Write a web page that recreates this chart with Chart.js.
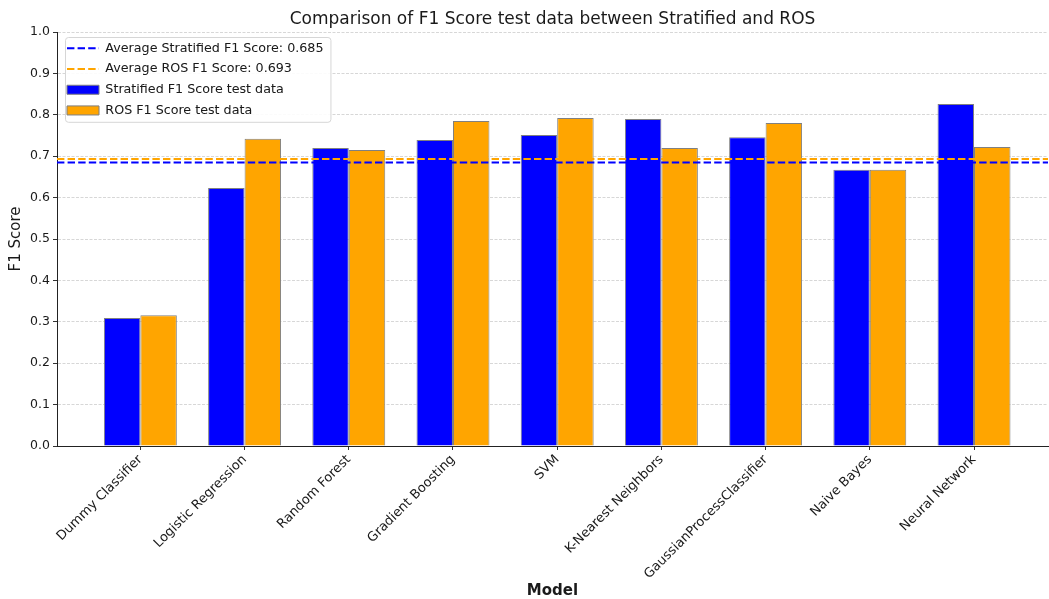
<!DOCTYPE html>
<html>
<head>
<meta charset="utf-8">
<script src="https://cdn.jsdelivr.net/npm/chart.js@4.4.0/dist/chart.umd.min.js"></script>
<style>
  html, body { margin: 0; padding: 0; background: #fff; }
  #wrap { width: 1049px; height: 599px; }
</style>
</head>
<body>
<div id="wrap"><canvas id="chart"></canvas></div>
<script>
const models = ['Dummy Classifier', 'Logistic Regression', 'Random Forest', 'Gradient Boosting', 'SVM',
    'K-Nearest Neighbors', 'GaussianProcessClassifier', 'Naive Bayes', 'Neural Network']
const stratifiedScores = [0.309, 0.623, 0.720, 0.739, 0.751, 0.790, 0.746, 0.667, 0.826]
const rosScores = [0.316, 0.742, 0.715, 0.785, 0.792, 0.720, 0.780, 0.667, 0.722]
const avgStratified = 0.685
const avgRos = 0.693

// x limits like matplotlib's margins around the bar groups
const X_MIN = -0.80
const X_MAX = 8.71

const FONT = 'DejaVu Sans'
const TEXT = '#1a1a1a'

const toPoints = values => values.map((y, i) => ({ x: i, y }))
const hline = y => [{ x: X_MIN, y }, { x: X_MAX, y }]

// legend in 'chartArea' gets top = 0, move it into the plot
const legendShift = {
    id: 'legendShift',
    afterLayout(chart) {
        const lg = chart.legend
        if (!lg) return
        const dy = chart.chartArea.top + 2 - lg.top
        const dx = 2
        lg.top += dy
        lg.bottom += dy
        lg.left += dx
        lg.right += dx
        lg.legendHitBoxes.forEach(b => { b.top += dy; b.left += dx })
    }
}

// white rounded frame behind the legend, then legend again on top
const legendFrame = {
    id: 'legendFrame',
    afterDraw(chart) {
        const lg = chart.legend
        if (!lg || !lg.legendHitBoxes || !lg.legendHitBoxes.length) return
        const boxes = lg.legendHitBoxes
        const left = Math.min(...boxes.map(b => b.left)) - 4
        const top = Math.min(...boxes.map(b => b.top)) - 5
        const right = Math.max(...boxes.map(b => b.left + b.width)) + 5
        const bottom = Math.max(...boxes.map(b => b.top + b.height)) + 5
        const ctx = chart.ctx
        ctx.save()
        ctx.beginPath()
        ctx.roundRect(left + 0.5, top + 0.5, right - left, bottom - top, 3)
        ctx.fillStyle = 'rgba(255,255,255,0.9)'
        ctx.fill()
        ctx.strokeStyle = '#d6d6d6'
        ctx.lineWidth = 1
        ctx.stroke()
        ctx.restore()
        lg.draw()
    }
}

const ctx = document.getElementById('chart')

new Chart(ctx, {
    type: 'bar',
    data: {
        datasets: [
            {
                type: 'line',
                label: `Average Stratified F1 Score: ${avgStratified.toFixed(3)}`,
                data: hline(avgStratified),
                borderColor: '#0000ff',
                borderWidth: 2,
                borderDash: [7.4, 3.2],
                pointRadius: 0,
                fill: false,
            },
            {
                type: 'line',
                label: `Average ROS F1 Score: ${avgRos.toFixed(3)}`,
                data: hline(avgRos),
                borderColor: '#ffa500',
                borderWidth: 2,
                borderDash: [7.4, 3.2],
                pointRadius: 0,
                fill: false,
            },
            {
                label: 'Stratified F1 Score test data',
                data: toPoints(stratifiedScores),
                backgroundColor: '#0000ff',
                borderColor: '#808080',
                borderWidth: 1,
                categoryPercentage: 0.7,
                barPercentage: 1.0,
            },
            {
                label: 'ROS F1 Score test data',
                data: toPoints(rosScores),
                backgroundColor: '#ffa500',
                borderColor: '#808080',
                borderWidth: 1,
                categoryPercentage: 0.7,
                barPercentage: 1.0,
            },
        ]
    },
    options: {
        responsive: true,
        maintainAspectRatio: false,
        devicePixelRatio: 1,
        animation: false,
        layout: { padding: { left: 0, right: 1, top: 0, bottom: 0 } },
        plugins: {
            tooltip: { enabled: false },
            title: {
                display: true,
                text: 'Comparison of F1 Score test data between Stratified and ROS',
                fullSize: false,
                color: TEXT,
                font: { family: FONT, size: 17, weight: 'normal' },
                padding: { top: 9, bottom: 2.6 },
            },
            legend: {
                position: 'chartArea',
                align: 'start',
                labels: {
                    usePointStyle: true,
                    pointStyleWidth: 32,
                    boxHeight: 9,
                    padding: 8,
                    color: TEXT,
                    font: { family: FONT, size: 12.7 },
                    generateLabels(chart) {
                        const items = Chart.defaults.plugins.legend.labels.generateLabels(chart)
                        items.forEach(item => {
                            const ds = chart.data.datasets[item.datasetIndex]
                            if (ds.type === 'line') {
                                item.pointStyle = 'line'
                                item.lineDash = ds.borderDash
                                item.lineWidth = ds.borderWidth
                                item.strokeStyle = ds.borderColor
                            } else {
                                item.pointStyle = 'rect'
                                item.lineDash = []
                                item.lineWidth = 1
                                item.strokeStyle = ds.borderColor
                                item.fillStyle = ds.backgroundColor
                            }
                        })
                        return items
                    }
                }
            },
        },
        scales: {
            x: {
                type: 'linear',
                min: X_MIN,
                max: X_MAX,
                offset: false,
                afterFit(scale) { scale.height = 153 },
                grid: {
                    offset: false,
                    drawOnChartArea: false,
                    drawTicks: true,
                    tickLength: 4,
                    tickColor: '#333',
                },
                border: { display: true, color: '#222', width: 1 },
                ticks: {
                    stepSize: 1,
                    includeBounds: false,
                    autoSkip: false,
                    maxRotation: 45,
                    minRotation: 45,
                    padding: 2,
                    color: TEXT,
                    font: { family: FONT, size: 13 },
                    callback: value => Number.isInteger(value) && models[value] ? models[value] : '',
                },
                title: {
                    display: true,
                    text: 'Model',
                    color: TEXT,
                    font: { family: FONT, size: 15, weight: 'bold', lineHeight: 1 },
                    padding: { top: 0, bottom: 0 },
                },
            },
            y: {
                min: 0,
                max: 1,
                afterFit(scale) { scale.width = 57 },
                grid: {
                    color: 'rgba(170,170,170,0.6)',
                    lineWidth: 0.8,
                    drawTicks: true,
                    tickLength: 4,
                    tickColor: '#333',
                    tickBorderDash: [],
                    tickWidth: 1,
                },
                border: { display: true, color: '#222', width: 1, dash: [3, 1.5] },
                ticks: {
                    stepSize: 0.1,
                    padding: 3,
                    color: TEXT,
                    font: { family: FONT, size: 12.5 },
                    callback: value => value.toFixed(1),
                },
                title: {
                    display: true,
                    text: 'F1 Score',
                    color: TEXT,
                    font: { family: FONT, size: 15, lineHeight: 1 },
                    padding: { top: 9, bottom: 0 },
                },
            },
        },
    },
    plugins: [legendShift, legendFrame],
})
</script>
</body>
</html>
